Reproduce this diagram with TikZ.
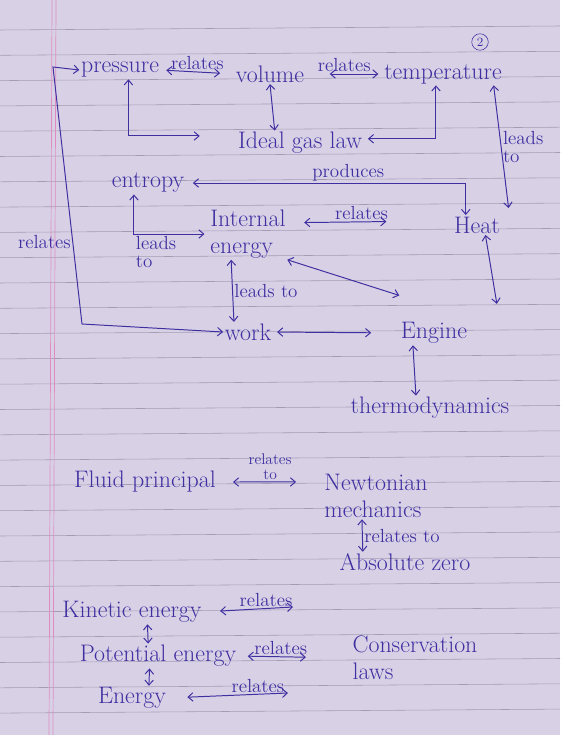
\documentclass[tikz,border=0pt]{standalone}
\usepackage{tikz}
\usetikzlibrary{arrows.meta,positioning}
\definecolor{ink}{HTML}{402FA0}
\definecolor{paper}{HTML}{D8D1E6}
\definecolor{ruling}{HTML}{A39CB3}
\definecolor{marginline}{HTML}{E08CC2}

\begin{document}
\begin{tikzpicture}[
			x=0.025cm, y=-0.025cm,
			every node/.style={text=ink},
			concept/.style={font=\fontsize{17}{19}\selectfont, inner sep=1pt},
			lbl/.style={font=\fontsize{13.5}{13}\selectfont, inner sep=1pt},
			link/.style={draw=ink, line width=0.7pt,
				{Straight Barb[length=3.5pt,width=6pt]}-{Straight Barb[length=3.5pt,width=6pt]}}
			]
			
			% ---- Paper ----
			\fill[paper] (0,0) rectangle (560,735);
			\useasboundingbox (0,0) rectangle (560,735);
			\foreach \y in {30,55.3,...,735}
			\draw[ruling, line width=0.4pt] (0,\y) -- (560,\y-4);
			\draw[marginline, line width=0.5pt] (52,0) -- (49,735);
			\draw[marginline, line width=0.5pt] (56,0) -- (53,735);
			\node[circle, draw=ink, inner sep=1.5pt, font=\small] (pageno) at (480,42) {2};
			
			% ---- Top row ----
			\node[concept] (pressure) at (120,70) {pressure};
			\node[concept] (volume) at (270,74) {volume};
			\node[concept] (temp) at (443,74) {temperature};
			\node[concept] (gaslaw) at (300,143) {Ideal gas law};
			
			% ---- Middle ----
			\node[concept] (entropy) at (148,183) {entropy};
			\node[concept, align=left] (internal) at (248,234) {Internal\\energy};
			\node[concept] (heat) at (477,225) {Heat};
			\node[concept] (work) at (248,332) {work};
			\node[concept] (engine) at (434,333) {Engine};
			\node[concept] (thermo) at (430,408) {thermodynamics};
			
			% ---- Lower ----
			\node[concept] (fluid) at (145,482) {Fluid principal};
			\node[concept, align=left] (newton) at (376,496) {Newtonian\\mechanics};
			\node[concept] (abszero) at (405,562) {Absolute zero};
			\node[concept] (kinetic) at (132,612) {Kinetic energy};
			\node[concept] (potential) at (158,656) {Potential energy};
			\node[concept] (energy) at (132,698) {Energy};
			\node[concept, align=left] (conserv) at (415,658) {Conservation\\laws};
			
			% ---- Free ends ----
			\coordinate (lefttop) at (53,67);
			\coordinate (leftbot) at (82,324);
			\coordinate (kinrel) at (293,607);
			\coordinate (enrel) at (288,693);
			
			% ---- Top arrows ----
			\draw[link, shorten <=4pt, shorten >=10pt] (pressure.east) -- node[lbl, above] {relates} (volume.west);
			\draw[link, shorten <=17pt, shorten >=3pt] (volume.east) -- node[lbl, above] {relates} (temp.west);
			\draw[link, shorten >=26pt] ([xshift=6pt]pressure.south) |- ([yshift=5pt]gaslaw.west);
			\draw[link] (volume.south) -- ([xshift=-18pt]gaslaw.north);
			\draw[link, shorten >=3pt] ([xshift=-5pt]temp.south) |- ([yshift=3pt]gaslaw.east);
			\draw[link] ([xshift=36pt]temp.south) -- node[lbl, right, align=left] {leads\\to} ([xshift=5pt,yshift=5pt]heat.north east);
			\draw[link] (pressure.west) -- (lefttop) -- node[pos=0.68, left, lbl] {relates} (leftbot) -- (work.west);
			
			% ---- Middle arrows ----
			\draw[link, shorten <=5pt] (entropy.east) -| node[pos=0.29, above, lbl] {produces} ([xshift=-8pt]heat.north);
			\draw[link, shorten >=3pt] ([xshift=-10pt]entropy.south) |- node[pos=0.5, below right, lbl, align=left] {leads\\to} (internal.west);
			\draw[link, shorten <=12pt, shorten >=47pt] ([yshift=8pt]internal.east) -- node[pos=0.45, above, lbl] {relates} ([yshift=3pt]heat.west);
			\draw[link] ([xshift=6pt]heat.south) -- ([xshift=20pt,yshift=12pt]engine.north east);
			\draw[link] (internal.south east) -- ([yshift=18pt]engine.north west);
			\draw[link] ([xshift=-12pt]internal.south) -- node[midway, right, lbl] {leads to} ([xshift=-10pt]work.north);
			\draw[link, shorten <=3pt, shorten >=20pt] (work.east) -- (engine.west);
			\draw[link] ([xshift=-15pt]engine.south) -- ([xshift=-10pt]thermo.north);
			
			% ---- Lower arrows ----
			\draw[link, shorten <=11pt, shorten >=19pt] (fluid.east) -- node[midway, above=0pt, lbl, align=center, font=\fontsize{11}{11}\selectfont] {relates\\to} ([yshift=10pt]newton.west);
			\draw[link] ([xshift=-10pt]newton.south) -- node[midway, right, lbl] {relates to} ([xshift=-30pt]abszero.north);
			\draw[link, shorten <=12pt] (kinetic.east) -- node[pos=0.7, above, lbl] {relates} (kinrel);
			\draw[link, shorten <=7pt, shorten >=32pt] (potential.east) -- node[pos=0.38, above, lbl] {relates} (conserv.west);
			\draw[link, shorten <=14pt] (energy.east) -- node[pos=0.75, above, lbl] {relates} (enrel);
			\draw[link] ([xshift=11pt]kinetic.south) -- ([xshift=-7pt]potential.north);
			\draw[link] ([xshift=-6pt]potential.south) -- ([xshift=12pt]energy.north);
			
		\end{tikzpicture}
\end{document}
